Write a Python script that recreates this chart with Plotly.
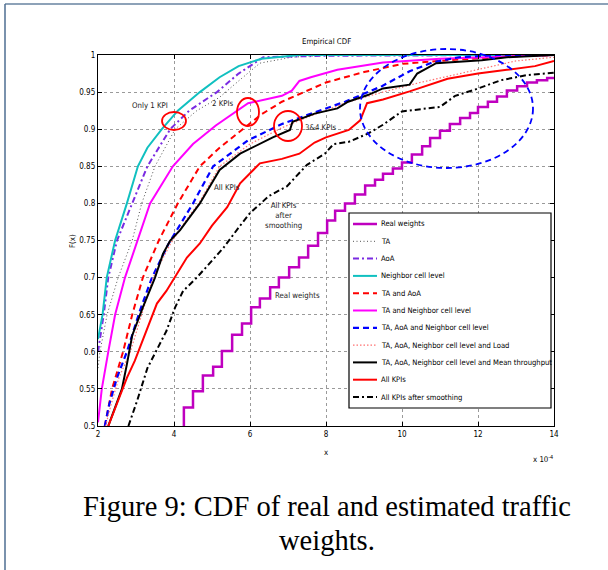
import plotly.graph_objects as go

# ---------------- data (x in units of 1e-4) ----------------
real_x = [4.26, 4.26, 4.50, 4.76, 5.03, 5.26, 5.53, 5.79, 6.03, 6.26, 6.53, 6.76, 7.03, 7.29, 7.53, 7.79,
          8.03, 8.24, 8.50, 8.76, 9.03, 9.29, 9.50, 9.76, 10.00, 10.26, 10.53, 10.74, 11.00, 11.26,
          11.53, 11.79, 12.00, 12.26, 12.50, 12.76, 13.03, 13.29, 13.55, 13.82, 14.0]
real_y = [0.49, 0.525, 0.547, 0.568, 0.580, 0.601, 0.623, 0.638, 0.660, 0.672, 0.687, 0.700, 0.714, 0.727, 0.743, 0.760,
          0.777, 0.790, 0.800, 0.812, 0.824, 0.832, 0.840, 0.847, 0.855, 0.866, 0.877, 0.888, 0.898, 0.907,
          0.915, 0.922, 0.930, 0.937, 0.944, 0.952, 0.958, 0.963, 0.966, 0.969, 0.969]

ta_x = [2.0, 2.05, 2.24, 2.53, 2.9, 3.15, 3.5, 4.03, 4.6, 5.2, 5.7, 6.26, 7.1, 8.0, 14.0]
ta_y = [0.578, 0.60, 0.65, 0.70, 0.75, 0.80, 0.85, 0.90, 0.925, 0.943, 0.965, 0.989, 0.997, 1.0, 1.0]

aoa_x = [2.0, 2.15, 2.27, 2.5, 2.9, 3.3, 3.9, 4.4, 5.13, 5.7, 6.35, 8.0, 14.0]
aoa_y = [0.60, 0.65, 0.70, 0.75, 0.80, 0.85, 0.90, 0.925, 0.95, 0.975, 0.997, 0.999, 1.0]

ncl_x = [2.0, 2.12, 2.23, 2.45, 2.76, 3.05, 3.3, 3.68, 4.1, 4.68, 5.2, 5.7, 6.3, 7.3, 14.0]
ncl_y = [0.617, 0.65, 0.70, 0.75, 0.80, 0.85, 0.875, 0.90, 0.925, 0.95, 0.97, 0.985, 0.995, 1.0, 1.0]

ta_aoa_x = [2.18, 2.37, 2.66, 2.9, 3.18, 3.6, 4.1, 4.68, 5.2, 5.8, 6.3, 6.84, 7.4, 8.0, 9.0, 10.0, 11.5, 12.8, 14.0]
ta_aoa_y = [0.50, 0.55, 0.60, 0.65, 0.70, 0.75, 0.80, 0.85, 0.875, 0.90, 0.92, 0.937, 0.95, 0.963, 0.977, 0.988, 0.994, 0.998, 1.0]

ta_ncl_x = [2.0, 2.1, 2.27, 2.45, 2.71, 3.05, 3.37, 3.97, 4.5, 5.1, 5.95, 6.84, 7.1, 7.3, 7.6, 8.3, 9.5, 11.0, 12.8, 14.0]
ta_ncl_y = [0.505, 0.55, 0.60, 0.65, 0.70, 0.75, 0.80, 0.85, 0.88, 0.905, 0.935, 0.945, 0.952, 0.965, 0.97, 0.98, 0.99, 0.995, 0.998, 1.0]

ta_aoa_ncl_x = [2.18, 2.3, 2.5, 2.76, 3.1, 3.42, 3.85, 4.24, 4.5, 5.03, 5.95, 6.84, 7.7, 8.5, 9.47, 10.2, 10.8, 11.5, 12.5, 14.0]
ta_aoa_ncl_y = [0.50, 0.53, 0.565, 0.60, 0.655, 0.70, 0.745, 0.777, 0.80, 0.85, 0.885, 0.907, 0.922, 0.937, 0.958, 0.978, 0.99, 0.997, 1.0, 1.0]

load_x = [2.2, 2.35, 2.55, 2.85, 3.15, 3.45, 3.9, 4.35, 4.65, 5.2, 6.0, 6.84, 7.6, 8.6, 9.5, 10.4, 11.7, 13.0, 14.0]
load_y = [0.50, 0.53, 0.565, 0.60, 0.65, 0.70, 0.745, 0.78, 0.80, 0.85, 0.88, 0.902, 0.918, 0.937, 0.95, 0.962, 0.977, 0.992, 0.997]

thr_x = [2.27, 2.45, 2.63, 2.76, 2.9, 3.18, 3.5, 3.71, 3.9, 4.16, 4.34, 4.68, 5.2, 5.74, 6.6, 7.05, 7.12, 7.7,
         8.3, 8.58, 9.1, 9.5, 10.2, 10.4, 10.9, 12.1, 12.76, 14.0]
thr_y = [0.50, 0.524, 0.55, 0.583, 0.622, 0.66, 0.70, 0.732, 0.75, 0.764, 0.777, 0.80, 0.845, 0.867, 0.889, 0.899, 0.91, 0.921,
         0.928, 0.937, 0.946, 0.955, 0.96, 0.975, 0.989, 0.993, 0.997, 1.0]

all_x = [2.27, 2.53, 2.76, 2.97, 3.1, 3.29, 3.55, 3.8, 4.08, 4.34, 4.68, 5.0, 5.4, 5.74, 6.26, 6.84, 7.3, 7.7,
         8.0, 8.6, 8.9, 9.08, 9.5, 10.2, 11.2, 12.0, 12.76, 13.5, 14.0]
all_y = [0.50, 0.534, 0.565, 0.588, 0.605, 0.632, 0.665, 0.682, 0.705, 0.727, 0.746, 0.77, 0.795, 0.827, 0.854, 0.86, 0.867, 0.882,
         0.889, 0.899, 0.912, 0.935, 0.94, 0.951, 0.968, 0.975, 0.98, 0.985, 0.992]

smooth_x = [2.8, 3.03, 3.3, 3.63, 3.8, 4.03, 4.24, 4.6, 4.95, 5.3, 5.74, 6.0, 6.5, 6.97, 7.5, 7.97, 8.2, 8.6,
            9.1, 9.5, 10.0, 11.0, 11.4, 11.9, 12.6, 13.3, 14.0]
smooth_y = [0.50, 0.534, 0.578, 0.61, 0.628, 0.66, 0.682, 0.70, 0.72, 0.74, 0.77, 0.787, 0.81, 0.823, 0.852, 0.867, 0.88, 0.883,
            0.894, 0.906, 0.924, 0.93, 0.945, 0.953, 0.966, 0.973, 0.976]

names = ["Real weights", "TA", "AoA", "Neighbor cell level", "TA and AoA", "TA and Neighbor cell level",
         "TA, AoA and Neighbor cell level", "TA, AoA, Neighbor cell level and Load",
         "TA, AoA, Neighbor cell level and Mean throughput", "All KPIs", "All KPIs after smoothing"]

x_ticks = [2, 4, 6, 8, 10, 12, 14]
x_ticktext = ["2", "4", "6", "8", "10", "12", "14"]
y_ticks = [0.5, 0.55, 0.6, 0.65, 0.7, 0.75, 0.8, 0.85, 0.9, 0.95, 1.0]
y_ticktext = ["0.5", "0.55", "0.6", "0.65", "0.7", "0.75", "0.8", "0.85", "0.9", "0.95", "1"]

# ---------------- styling ----------------
FONT = "DejaVu Sans Condensed, Liberation Sans Narrow, Arial, sans-serif"
FS = 7.8
LFS = 7.6
styles = [
    dict(color="#BF00BF", width=2.5, dash="solid"),
    dict(color="#505050", width=1, dash="1px,2.5px"),
    dict(color="#7A2BE2", width=2, dash="6px,3px,2px,3px"),
    dict(color="#10C0C0", width=2, dash="solid"),
    dict(color="#FF0000", width=2, dash="6px,4px"),
    dict(color="#FF00FF", width=2, dash="solid"),
    dict(color="#0000FF", width=2.2, dash="6px,4px"),
    dict(color="#FF7070", width=1.2, dash="1.5px,2px"),
    dict(color="#000000", width=2, dash="solid"),
    dict(color="#FF0000", width=2, dash="solid"),
    dict(color="#000000", width=2, dash="6px,3px,2px,3px"),
]
series = [(real_x, real_y), (ta_x, ta_y), (aoa_x, aoa_y), (ncl_x, ncl_y), (ta_aoa_x, ta_aoa_y),
          (ta_ncl_x, ta_ncl_y), (ta_aoa_ncl_x, ta_aoa_ncl_y), (load_x, load_y), (thr_x, thr_y),
          (all_x, all_y), (smooth_x, smooth_y)]

W, H = 608, 570
ML, MR, MT, MB = 98, 54, 55, 144
PW = W - ML - MR
PH = H - MT - MB


def pxx(p):
    return (p - ML) / PW


def pxy(p):
    return (H - MB - p) / PH


fig = go.Figure()
for i, ((xs, ys), st, nm) in enumerate(zip(series, styles, names)):
    fig.add_trace(go.Scatter(
        x=xs, y=ys, mode="lines", name=nm, showlegend=False,
        line=dict(color=st["color"], width=st["width"], dash=st["dash"],
                  shape="hv" if i == 0 else "linear"),
    ))

shapes = []
annotations = []


def note(text, x, y, size=FS, family=FONT, xref="paper", yref="paper", xanchor="center", **kw):
    annotations.append(dict(xref=xref, yref=yref, x=x, y=y, text=text, showarrow=False,
                            xanchor=xanchor, yanchor="middle",
                            font=dict(family=family, size=size, color=kw.pop("color", "black")), **kw))


# page border lines
shapes.append(dict(type="line", xref="paper", yref="paper", x0=pxx(5), x1=pxx(608), y0=pxy(4), y1=pxy(4),
                   line=dict(color="#8DA2B8", width=2)))
shapes.append(dict(type="line", xref="paper", yref="paper", x0=pxx(5), x1=pxx(5), y0=pxy(4), y1=pxy(570),
                   line=dict(color="#4E6E92", width=1.5)))

# red circles
for (cx0, cx1, cy0, cy1) in [(162, 186, 112, 130), (237, 259, 98, 126), (274, 302, 111, 141)]:
    shapes.append(dict(type="circle", xref="paper", yref="paper", x0=pxx(cx0), x1=pxx(cx1),
                       y0=pxy(cy0), y1=pxy(cy1), line=dict(color="#FF0000", width=1.8)))
# blue dashed ellipse
shapes.append(dict(type="circle", xref="paper", yref="paper", x0=pxx(360), x1=pxx(533),
                   y0=pxy(49), y1=pxy(168), line=dict(color="#0000FF", width=1.8, dash="6px,4px")))

# manual legend
lx0, lx1, ly0, ly1 = 349, 551, 213, 408
shapes.append(dict(type="rect", xref="paper", yref="paper", x0=pxx(lx0), x1=pxx(lx1), y0=pxy(ly0), y1=pxy(ly1),
                   line=dict(color="black", width=1.2), fillcolor="white", layer="above"))
row0, drow = 224, 17.3
for i, (st, nm) in enumerate(zip(styles, names)):
    yy = row0 + i * drow
    shapes.append(dict(type="line", xref="paper", yref="paper", x0=pxx(353), x1=pxx(377), y0=pxy(yy), y1=pxy(yy),
                       line=dict(color=st["color"], width=st["width"], dash=st["dash"]), layer="above"))
    note(nm, pxx(379), pxy(yy), size=LFS, xanchor="left")

# in-plot labels (data coordinates)
labels = [("Only 1 KPI", 3.37, 0.932), ("2 KPIs", 5.29, 0.935), ("3&4 KPIs", 7.86, 0.902),
          ("All KPIs", 5.39, 0.822), ("All KPIs<br>after<br>smoothing", 6.87, 0.784), ("Real weights", 7.24, 0.676)]
for t, x, y in labels:
    note(t, x, y, xref="x", yref="y", color="#222")

# titles
note("Empirical CDF", pxx(326), pxy(42))
note("x", pxx(326), pxy(452))
note("F(x)", pxx(72), pxy(241), textangle=-90)
note("x 10<sup>-4</sup>", pxx(543), pxy(459))
# caption
CAP = "Liberation Serif, DejaVu Serif, serif"
note("Figure 9: CDF of real and estimated traffic", pxx(327), pxy(507), size=28.5, family=CAP)
note("weights.", pxx(327), pxy(540), size=28.5, family=CAP)

axis_common = dict(showline=True, linecolor="black", linewidth=1.3, mirror="ticks", ticks="inside", ticklen=4,
                   tickcolor="black", showgrid=True, gridcolor="#9a9a9a", griddash="dot", gridwidth=1,
                   zeroline=False, tickfont=dict(family=FONT, size=8, color="black"))

fig.update_layout(
    width=W, height=H, autosize=False,
    margin=dict(l=ML, r=MR, t=MT, b=MB, pad=0),
    paper_bgcolor="white", plot_bgcolor="white",
    xaxis=dict(range=[2, 14], tickvals=x_ticks, ticktext=x_ticktext, **axis_common),
    yaxis=dict(range=[0.5, 1.0], tickvals=y_ticks, ticktext=y_ticktext, **axis_common),
    shapes=shapes, annotations=annotations, showlegend=False,
)

fig.write_html("out.html")
